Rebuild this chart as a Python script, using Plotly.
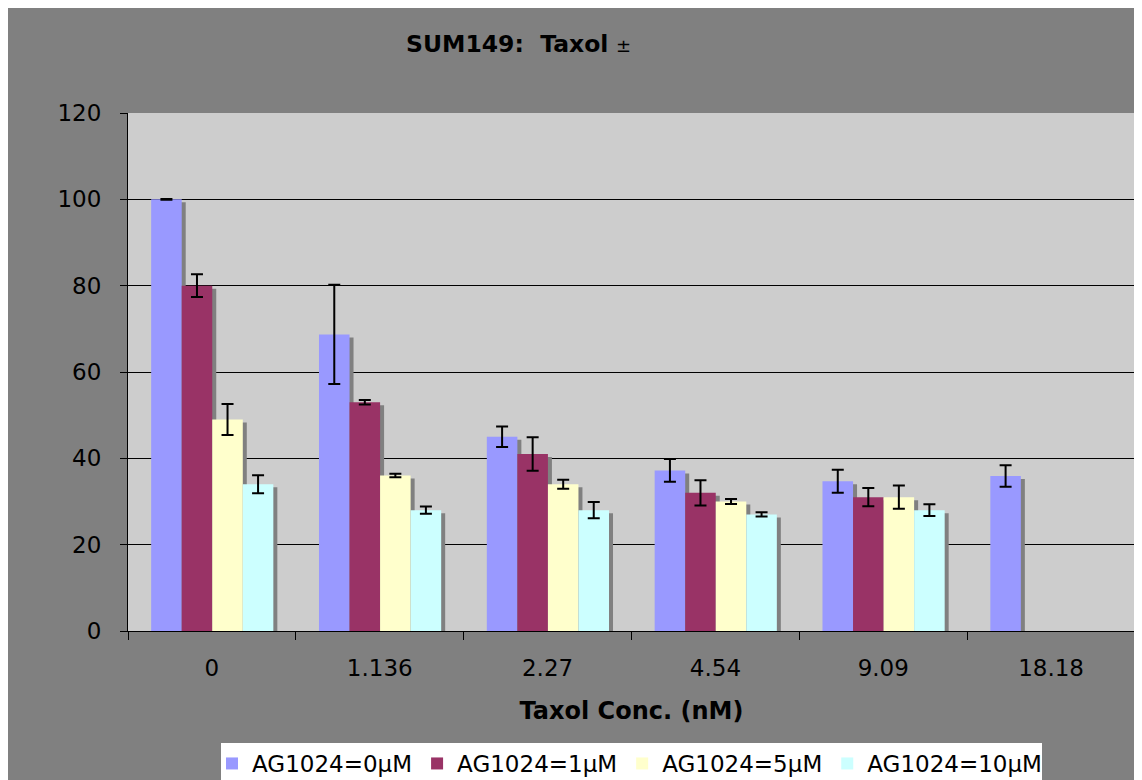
import plotly.graph_objects as go

# ---- data ----
categories = ["0", "1.136", "2.27", "4.54", "9.09", "18.18"]
series_names = ["AG1024=0μM", "AG1024=1μM", "AG1024=5μM", "AG1024=10μM"]
ag0 = [100, 68.7, 45, 37.2, 34.7, 35.9]
ag1 = [80, 53, 41, 32, 31, None]
ag5 = [49, 36, 34, 30, 31, None]
ag10 = [34, 28, 28, 27, 28, None]
err0 = [0.1, 11.5, 2.4, 2.65, 2.65, 2.5]
err1 = [2.65, 0.5, 3.9, 2.9, 2.1, None]
err5 = [3.6, 0.4, 1.05, 0.6, 2.7, None]
err10 = [2.1, 0.85, 1.9, 0.5, 1.35, None]
y_ticks = [0, 20, 40, 60, 80, 100, 120]

series_values = [ag0, ag1, ag5, ag10]
series_errors = [err0, err1, err5, err10]
colors = ["#9999FF", "#993366", "#FFFFCC", "#CCFFFF"]

W, H = 1142, 780
OFF = 8  # page body margin in the screenshot
L, R, T, B = 120, 15, 105, 157
plot_w = W - L - R
plot_h = H - T - B
cat_px = plot_w / len(categories)
unit_px = plot_h / 120.0

bar_w = 0.182
start = -0.362
sh_dx = 4 / cat_px
sh_dy = 3 / unit_px

fig = go.Figure()

# shadows
for i, vals in enumerate(series_values):
    fig.add_trace(go.Bar(
        x=categories,
        y=[None if v is None else v - sh_dy for v in vals],
        width=bar_w, offset=start + i * bar_w + sh_dx,
        marker=dict(color="#808080", line=dict(width=0)),
        showlegend=False, hoverinfo="skip",
    ))

# bars
for i, (name, vals, errs) in enumerate(zip(series_names, series_values, series_errors)):
    fig.add_trace(go.Bar(
        x=categories, y=vals, name=name,
        width=bar_w, offset=start + i * bar_w,
        marker=dict(color=colors[i], line=dict(width=0)),
        error_y=dict(type="data", array=errs, visible=True,
                     color="black", thickness=2, width=6),
    ))

# screenshot pixel -> paper coords
def px_x(x):
    return (x - OFF - L) / plot_w

def px_y(y):
    return (H - B - (y - OFF)) / plot_h

fig.update_layout(
    width=W, height=H,
    margin=dict(l=L, r=R, t=T, b=B, pad=0, autoexpand=False),
    barmode="overlay",
    paper_bgcolor="#808080",
    plot_bgcolor="#CDCDCD",
    font=dict(family="DejaVu Sans", size=23, color="black"),
    xaxis=dict(
        type="category", categoryorder="array", categoryarray=categories,
        showline=True, linecolor="black", linewidth=1,
        ticks="outside", tickson="boundaries", ticklen=8, tickcolor="black",
        showgrid=False, automargin=False,
        tickfont=dict(family="DejaVu Sans", size=23, color="black"),
        ticklabelstandoff=16,
        title=dict(text="<b>Taxol Conc. (nM)</b>",
                   font=dict(family="DejaVu Sans", size=24, color="black"),
                   standoff=22),
    ),
    yaxis=dict(
        range=[0, 120], tickmode="array", tickvals=y_ticks,
        showline=True, linecolor="black", linewidth=1,
        ticks="outside", ticklen=7, tickcolor="black",
        showgrid=True, gridcolor="black", gridwidth=1,
        zeroline=False, automargin=False,
        tickfont=dict(family="DejaVu Sans", size=23, color="black"),
        ticklabelstandoff=14,
    ),
    legend=dict(
        orientation="h", x=px_x(212), y=px_y(742), xanchor="left", yanchor="top",
        bgcolor="rgba(0,0,0,0)", borderwidth=0,
        font=dict(family="DejaVu Sans", size=23, color="black"),
        traceorder="normal",
    ),
    showlegend=True,
)

# white legend box
fig.add_shape(type="rect", xref="paper", yref="paper",
              x0=px_x(221), x1=px_x(1042), y0=px_y(800), y1=px_y(743),
              fillcolor="white", line=dict(width=0), layer="below")

# title
fig.add_annotation(
    xref="paper", yref="paper", x=px_x(404), y=px_y(44),
    xanchor="left", yanchor="middle", showarrow=False,
    text="<b>SUM149:\u00a0\u00a0Taxol</b> <span style='font-size:18px'>±</span>",
    font=dict(family="DejaVu Sans", size=23.5, color="black"),
)

fig.write_html("out.html")
